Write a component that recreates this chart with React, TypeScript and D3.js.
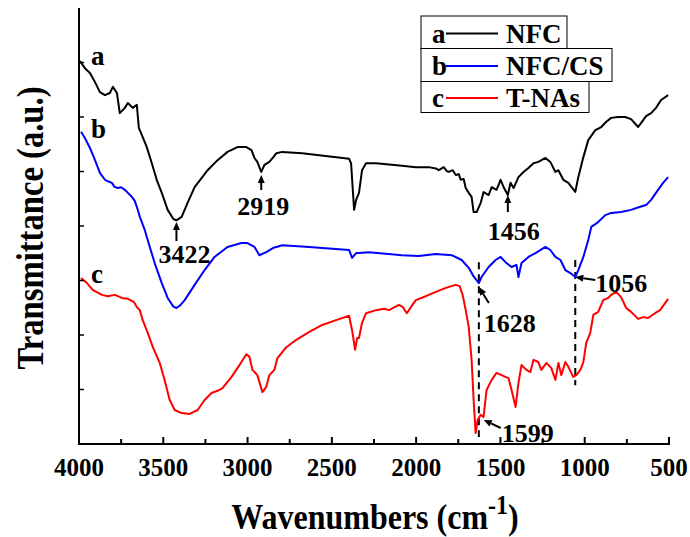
import React, { useEffect, useRef } from "react";
import * as d3 from "d3";

// FTIR spectra: wavenumber (cm-1) and transmittance (a.u., offset)
const wnA = [3994, 3965, 3935, 3905, 3876, 3846, 3817, 3799, 3775, 3758, 3728, 3710, 3681, 3657, 3645, 3622, 3598, 3568, 3539, 3509, 3474, 3440, 3422, 3391, 3356, 3314, 3273, 3237, 3178, 3119, 3060, 3007, 2977, 2959, 2942, 2919, 2900, 2871, 2847, 2829, 2794, 2676, 2398, 2386, 2368, 2356, 2339, 2321, 2297, 2238, 2084, 2002, 1925, 1883, 1866, 1836, 1818, 1807, 1783, 1765, 1747, 1736, 1718, 1706, 1688, 1671, 1659, 1641, 1617, 1600, 1570, 1552, 1523, 1499, 1481, 1456, 1440, 1422, 1393, 1363, 1334, 1304, 1275, 1233, 1204, 1174, 1156, 1127, 1097, 1056, 1038, 1008, 979, 937, 902, 872, 843, 802, 760, 725, 683, 666, 636, 606, 577, 547, 505];
const tA = [87.8, 86.2, 85.1, 83.0, 80.7, 80.0, 80.5, 81.9, 80.5, 75.9, 77.1, 78.2, 77.1, 77.8, 72.5, 70.4, 68.1, 64.4, 60.6, 57.6, 53.7, 51.6, 51.3, 52.1, 55.3, 58.9, 61.0, 62.8, 65.1, 67.0, 68.1, 68.1, 67.4, 65.6, 64.7, 62.4, 64.0, 64.7, 65.8, 66.7, 67.0, 66.7, 65.4, 64.4, 53.7, 56.0, 57.6, 62.8, 64.4, 64.4, 63.8, 63.5, 63.5, 63.2, 62.8, 63.5, 62.6, 62.4, 62.8, 61.7, 61.9, 60.6, 60.8, 58.7, 57.6, 56.7, 53.2, 53.2, 55.3, 57.8, 57.1, 58.9, 58.3, 60.6, 58.9, 57.1, 59.9, 58.7, 61.2, 62.4, 63.3, 64.4, 64.7, 65.6, 64.7, 62.4, 62.8, 60.6, 59.9, 57.8, 61.2, 65.8, 69.7, 72.0, 72.7, 73.9, 74.8, 75.0, 75.0, 74.5, 72.7, 73.6, 75.2, 75.9, 77.1, 78.9, 80.0];

const wnB = [3988, 3965, 3935, 3905, 3876, 3846, 3825, 3805, 3790, 3769, 3750, 3728, 3710, 3687, 3670, 3657, 3639, 3610, 3580, 3551, 3509, 3474, 3440, 3422, 3400, 3373, 3314, 3255, 3196, 3119, 3036, 3001, 2959, 2930, 2889, 2847, 2829, 2794, 2634, 2398, 2380, 2356, 2339, 2280, 2084, 1984, 1883, 1789, 1730, 1688, 1660, 1628, 1612, 1570, 1529, 1499, 1470, 1434, 1405, 1393, 1375, 1334, 1292, 1233, 1204, 1174, 1144, 1115, 1085, 1056, 1038, 1008, 979, 961, 920, 878, 843, 784, 725, 671, 636, 606, 565, 535, 505];
const tB = [71.6, 70.2, 67.9, 65.1, 62.2, 60.6, 60.2, 59.9, 59.0, 58.7, 58.9, 58.3, 57.6, 56.7, 55.8, 54.4, 52.1, 49.1, 45.2, 41.5, 36.9, 33.5, 31.5, 31.2, 31.8, 33.0, 36.5, 39.9, 42.9, 45.2, 46.1, 46.1, 45.2, 43.3, 44.0, 45.0, 45.2, 45.6, 45.2, 44.5, 42.7, 43.8, 43.8, 44.0, 43.3, 43.1, 43.6, 43.3, 42.2, 40.4, 38.5, 36.9, 38.3, 40.6, 42.2, 42.9, 41.7, 40.6, 41.1, 38.3, 41.5, 42.9, 43.8, 45.2, 44.5, 42.9, 42.2, 39.9, 39.2, 38.3, 39.9, 42.9, 46.8, 49.8, 50.9, 52.5, 53.0, 53.2, 53.7, 54.4, 54.8, 56.0, 58.3, 59.9, 61.2];

const wnC = [3988, 3953, 3917, 3864, 3829, 3787, 3746, 3710, 3675, 3657, 3639, 3622, 3592, 3562, 3521, 3492, 3462, 3432, 3391, 3344, 3296, 3255, 3214, 3178, 3149, 3095, 3048, 3007, 2989, 2971, 2942, 2912, 2889, 2871, 2841, 2823, 2770, 2711, 2634, 2557, 2475, 2398, 2380, 2362, 2350, 2339, 2321, 2297, 2238, 2191, 2161, 2102, 2079, 2055, 2031, 2002, 1943, 1883, 1824, 1765, 1742, 1724, 1706, 1688, 1671, 1659, 1647, 1635, 1617, 1600, 1582, 1552, 1523, 1493, 1470, 1452, 1434, 1410, 1393, 1375, 1346, 1322, 1304, 1275, 1257, 1227, 1198, 1174, 1156, 1139, 1115, 1097, 1068, 1050, 1026, 1008, 991, 967, 949, 920, 890, 861, 843, 813, 784, 754, 725, 683, 654, 624, 583, 553, 505];
const tC = [38.1, 36.9, 35.3, 34.2, 33.9, 34.2, 33.5, 33.3, 32.6, 31.4, 30.7, 28.4, 25.5, 22.2, 18.6, 14.7, 10.1, 7.8, 7.1, 6.9, 7.8, 10.1, 11.7, 12.2, 12.8, 15.4, 18.1, 20.6, 20.0, 17.0, 15.8, 11.9, 13.1, 15.8, 17.0, 19.7, 22.2, 23.9, 25.7, 27.3, 28.4, 29.4, 26.1, 21.6, 24.3, 24.3, 27.8, 30.0, 30.7, 31.0, 30.7, 31.9, 31.4, 30.0, 31.4, 33.0, 33.9, 34.9, 35.8, 36.5, 36.2, 34.2, 30.7, 26.8, 19.3, 10.1, 2.5, 5.5, 6.7, 6.2, 12.4, 14.7, 16.3, 15.8, 15.4, 15.1, 12.4, 8.5, 14.0, 18.1, 17.0, 16.5, 19.3, 18.8, 17.0, 18.6, 17.4, 14.7, 18.6, 15.8, 18.8, 17.7, 15.4, 15.8, 17.0, 18.8, 23.2, 25.5, 29.6, 30.3, 33.0, 33.5, 34.2, 34.9, 33.7, 31.2, 30.3, 28.7, 29.1, 28.9, 30.0, 30.7, 33.3];

const seriesKeys = ["a", "b", "c"];
const seriesNames = ["NFC", "NFC/CS", "T-NAs"];
const seriesColors = ["#000000", "#0000ff", "#ff0000"];
const xTicks = [4000, 3500, 3000, 2500, 2000, 1500, 1000, 500];

// peak labels: wavenumber, tip transmittance
const peakLabels = ["3422", "2919", "1456", "1628", "1056", "1599"];
const peakWn = [3422, 2919, 1456, 1628, 1056, 1599];
const peakTip = [50.9, 61.7, 57.1, 36.0, 38.3, 5.5];

// dashed guide lines
const guideWn = [1628, 1056];
const guideTop = [41.7, 42.2];
const guideBottom = [1.6, 13.5];

const FONT = "'Liberation Serif', 'Times New Roman', serif";

const App: React.FC = () => {
  const svgRef = useRef<SVGSVGElement | null>(null);

  useEffect(() => {
    if (!svgRef.current) return;
    const svg = d3.select(svgRef.current);
    svg.selectAll("*").remove();

    const left = 79, right = 669, top = 8, bottom = 444;
    const x = d3.scaleLinear().domain([4000, 500]).range([left, right]);
    const y = d3.scaleLinear().domain([0, 100]).range([bottom, top]);

    const data = [
      d3.zip(wnA, tA),
      d3.zip(wnB, tB),
      d3.zip(wnC, tC),
    ] as [number, number][][];

    const line = d3.line<[number, number]>()
      .x(d => x(d[0]))
      .y(d => y(d[1]))
      .curve(d3.curveLinear);

    // dashed guides
    guideWn.forEach((w, i) => {
      svg.append("line")
        .attr("x1", x(w)).attr("x2", x(w))
        .attr("y1", y(guideTop[i])).attr("y2", y(guideBottom[i]))
        .attr("stroke", "#000").attr("stroke-width", 2)
        .attr("stroke-dasharray", "7,5");
    });

    // spectra
    data.forEach((d, i) => {
      svg.append("path")
        .attr("d", line(d) || "")
        .attr("fill", "none")
        .attr("stroke", seriesColors[i])
        .attr("stroke-width", 2)
        .attr("stroke-linejoin", "round");
    });

    // axes
    const axisG = svg.append("g");
    axisG.append("line").attr("x1", left).attr("x2", left).attr("y1", top).attr("y2", bottom)
      .attr("stroke", "#000").attr("stroke-width", 2);
    axisG.append("line").attr("x1", left - 1).attr("x2", right + 1).attr("y1", bottom).attr("y2", bottom)
      .attr("stroke", "#000").attr("stroke-width", 2);

    d3.range(4000, 499, -250).forEach(w => {
      const major = w % 500 === 0;
      axisG.append("line")
        .attr("x1", x(w)).attr("x2", x(w))
        .attr("y1", bottom).attr("y2", bottom - (major ? 7 : 5))
        .attr("stroke", "#000").attr("stroke-width", 2);
    });
    xTicks.forEach(w => {
      axisG.append("text")
        .attr("x", x(w)).attr("y", 476)
        .attr("text-anchor", "middle")
        .attr("font-family", FONT).attr("font-weight", "bold").attr("font-size", 25)
        .text(w);
    });
    d3.range(12.5, 100, 12.5).forEach(v => {
      axisG.append("line")
        .attr("x1", left).attr("x2", left + 5)
        .attr("y1", y(v)).attr("y2", y(v))
        .attr("stroke", "#000").attr("stroke-width", 1.5);
    });

    // axis titles
    const xt = svg.append("text")
      .attr("transform", "translate(375, 529) scale(1, 1.1)")
      .attr("text-anchor", "middle")
      .attr("font-family", FONT).attr("font-weight", "bold").attr("font-size", 32);
    xt.append("tspan").text("Wavenumbers (cm");
    xt.append("tspan").attr("dy", -14).attr("font-size", 24).text("-1");
    xt.append("tspan").attr("dy", 14).text(")");

    svg.append("text")
      .attr("transform", `translate(43, 228) rotate(-90) scale(1.02, 1.2)`)
      .attr("text-anchor", "middle")
      .attr("font-family", FONT).attr("font-weight", "bold").attr("font-size", 32)
      .text("Transmittance (a.u.)");

    // curve letters
    const letterY = [65, 138, 283];
    seriesKeys.forEach((k, i) => {
      svg.append("text")
        .attr("x", 91).attr("y", letterY[i])
        .attr("font-family", FONT).attr("font-weight", "bold").attr("font-size", 27)
        .text(k);
    });

    // peak arrows + labels
    const arrowLayout = [
      { tdx: 0, tdy: 19, lx: 8, ly: 41, anchor: "middle" },
      { tdx: 0, tdy: 15, lx: 2, ly: 40, anchor: "middle" },
      { tdx: 0, tdy: 17, lx: 6, ly: 45, anchor: "middle" },
      { tdx: 10, tdy: 16, lx: 5, ly: 45, anchor: "start" },
      { tdx: 20, tdy: 3, lx: 20, ly: 15, anchor: "start" },
      { tdx: 17, tdy: 8, lx: 18, ly: 22, anchor: "start" },
    ];
    peakLabels.forEach((lab, i) => {
      const L = arrowLayout[i];
      const tx = x(peakWn[i]), ty = y(peakTip[i]);
      const sx = tx + L.tdx, sy = ty + L.tdy;
      const ang = Math.atan2(ty - sy, tx - sx);
      const hl = 8, hw = 3.5;
      const bx = tx - hl * Math.cos(ang), by = ty - hl * Math.sin(ang);
      svg.append("line")
        .attr("x1", sx).attr("y1", sy).attr("x2", bx).attr("y2", by)
        .attr("stroke", "#000").attr("stroke-width", 2);
      const px = -Math.sin(ang), py = Math.cos(ang);
      svg.append("path")
        .attr("d", `M${tx},${ty}L${bx + hw * px},${by + hw * py}L${bx - hw * px},${by - hw * py}Z`)
        .attr("fill", "#000");
      svg.append("text")
        .attr("x", tx + L.lx).attr("y", ty + L.ly)
        .attr("text-anchor", L.anchor)
        .attr("font-family", FONT).attr("font-weight", "bold").attr("font-size", 26)
        .text(lab);
    });

    // legend (three stacked boxes)
    const boxW = [146, 191, 168];
    const boxY = [16, 48.5, 81.5];
    const boxH = [33, 33, 31];
    seriesKeys.forEach((k, i) => {
      const g = svg.append("g");
      g.append("rect")
        .attr("x", 421).attr("y", boxY[i])
        .attr("width", boxW[i]).attr("height", boxH[i])
        .attr("fill", "#fff").attr("stroke", "#000").attr("stroke-width", 1);
      const cy = boxY[i] + boxH[i] / 2 + 1;
      g.append("text")
        .attr("x", 432).attr("y", cy + 9)
        .attr("font-family", FONT).attr("font-weight", "bold").attr("font-size", 27)
        .text(k);
      g.append("line")
        .attr("x1", 446).attr("x2", 498).attr("y1", cy).attr("y2", cy)
        .attr("stroke", seriesColors[i]).attr("stroke-width", 2);
      g.append("text")
        .attr("x", 506).attr("y", cy + 9)
        .attr("font-family", FONT).attr("font-weight", "bold").attr("font-size", 27)
        .text(seriesNames[i]);
    });
  }, []);

  return (
    <svg
      ref={svgRef}
      width={690}
      height={537}
      style={{ position: "absolute", left: 0, top: 0, background: "#fff" }}
    />
  );
};

export default App;
